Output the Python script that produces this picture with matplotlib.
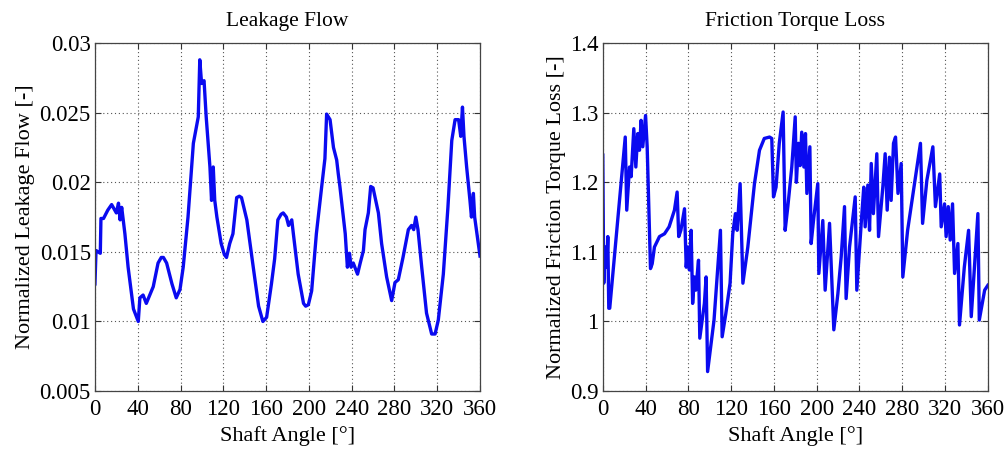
import numpy as np
import matplotlib
matplotlib.use("Agg")
import matplotlib.pyplot as plt

# ---- data ----
# leakage flow: (shaft angle [deg], normalized leakage flow [-])
leak_angle = [0, 1, 5, 5.6, 8, 12, 15.6, 20, 22, 23.5, 25, 28, 31, 36, 40.5, 42, 45, 48,
              54.5, 59, 62, 64, 67, 72, 76, 79.5, 82.5, 87, 92, 96.6, 98, 99.7, 102, 104,
              107.5, 109, 110.6, 112, 114, 118, 121, 123, 126, 129, 132.5, 135, 137, 142, 148,
              153, 157, 160.5, 165, 168, 171, 174, 176, 179, 181, 184, 185.5, 190, 195,
              197, 199.5, 202.6, 207, 212, 215, 216.6, 219.8, 223, 226, 227.5, 229, 234,
              236, 238, 239.5, 241.5, 245.5, 248, 251, 252.5, 255.6, 257.8, 260, 265,
              268, 272.7, 277.4, 280.5, 283.6, 288, 293, 296, 298, 300, 302, 305.5,
              310, 314.8, 318, 321, 325.7, 330, 333.6, 336.7, 340, 342, 343.6, 345,
              347.5, 350.6, 352, 353.8, 355, 360]
leak_flow = [0.0127, 0.0151, 0.0149, 0.0174, 0.0174, 0.0180, 0.0184, 0.0178, 0.0185, 0.0173,
             0.0182, 0.0163, 0.0139, 0.0109, 0.0100, 0.0117, 0.0119, 0.0113, 0.0125,
             0.0142, 0.0146, 0.0146, 0.0142, 0.0127, 0.0117, 0.0123, 0.0139, 0.0175, 0.0228,
             0.0247, 0.0288, 0.0271, 0.0273, 0.0247, 0.0211, 0.0187, 0.0211, 0.0187,
             0.0175, 0.0156, 0.0148, 0.0146, 0.0156, 0.0163, 0.0189, 0.0190, 0.0189, 0.0173, 0.0139,
             0.0111, 0.0100, 0.0103, 0.0127, 0.0145, 0.0173, 0.0177, 0.0178, 0.0175, 0.0169,
             0.0173, 0.0163, 0.0134, 0.0113, 0.0111, 0.0112, 0.0122, 0.0163, 0.0197, 0.0217,
             0.0249, 0.0245, 0.0225, 0.0216, 0.0206, 0.0197, 0.0163, 0.0139, 0.0149,
             0.0139, 0.0142, 0.0134, 0.0142, 0.0151, 0.0166, 0.0178, 0.0197, 0.0196,
             0.0178, 0.0156, 0.0132, 0.0115, 0.0128, 0.0130, 0.0146, 0.0166, 0.0169,
             0.0166, 0.0175, 0.0166, 0.0139, 0.0106, 0.0091, 0.0091, 0.0101, 0.0134,
             0.0182, 0.0230, 0.0245, 0.0245, 0.0233, 0.0254, 0.0233, 0.0211, 0.0187,
             0.0175, 0.0192, 0.0175, 0.0147]

# friction torque loss: (shaft angle [deg], normalized friction torque loss [-])
torque_angle = [0, 0.9, 2.5, 3.7, 4.7, 5.6, 6.5, 21, 22.4, 25, 26.5, 29, 30.9, 32.7,
                34.3, 35.8, 37.4, 40, 41.5, 44.6, 46.2, 48.3, 53, 57.7, 62, 67, 69.5,
                71, 73, 76.4, 78, 79.5, 81, 82.6, 84, 85.7, 87, 89.5, 90.7, 95, 96.6,
                98, 104, 110, 111.6, 115, 119, 121.5, 124, 125.6, 128.4, 131, 135.6,
                141.8, 146.5, 151, 155.9, 158, 159.6, 162, 165, 168.6, 170.5, 173,
                176.7, 179.9, 181, 183, 184.5, 186, 188, 189.5, 190.8, 193.6, 194.8,
                197, 201, 202, 205.7, 207.9, 212, 216, 219.8, 222.9, 226, 227.5, 230.7,
                236, 237.5, 242, 244, 245.3, 247.8, 249.4, 251, 253, 256.2, 257.8,
                261.8, 264, 265.9, 268, 269.6, 271.8, 273.7, 276, 279, 280.5, 285, 291,
                297, 299, 303, 308.6, 311, 315, 316.4, 319.5, 321, 323, 324.8, 327,
                328.9, 332, 333.5, 338, 342, 344.5, 350.7, 352, 357, 360]
torque_loss = [1.239, 1.055, 1.107, 1.078, 1.122, 1.019, 1.019, 1.265, 1.160, 1.222,
               1.208, 1.277, 1.222, 1.270, 1.246, 1.289, 1.251, 1.296, 1.251, 1.076,
               1.083, 1.107, 1.122, 1.126, 1.136, 1.160, 1.186, 1.122, 1.131, 1.162,
               1.078, 1.107, 1.074, 1.131, 1.026, 1.064, 1.045, 1.088, 0.976, 1.026,
               1.064, 0.928, 1.002, 1.131, 0.978, 1.011, 1.055, 1.126, 1.155, 1.131,
               1.198, 1.055, 1.107, 1.198, 1.246, 1.263, 1.265, 1.263, 1.179, 1.193,
               1.256, 1.301, 1.131, 1.165, 1.222, 1.294, 1.200, 1.256, 1.224, 1.272,
               1.222, 1.270, 1.184, 1.251, 1.112, 1.145, 1.198, 1.069, 1.145, 1.045,
               1.141, 0.988, 1.040, 1.093, 1.165, 1.033, 1.107, 1.179, 1.045, 1.150,
               1.193, 1.136, 1.196, 1.131, 1.227, 1.155, 1.241, 1.122, 1.193, 1.241,
               1.160, 1.236, 1.174, 1.256, 1.265, 1.184, 1.227, 1.064, 1.131, 1.193,
               1.256, 1.141, 1.203, 1.251, 1.165, 1.212, 1.136, 1.169, 1.122, 1.165,
               1.117, 1.169, 1.069, 1.112, 0.995, 1.078, 1.131, 1.007, 1.155, 1.002,
               1.045, 1.052]

angle_ticks = list(range(0, 361, 40))
leak_ticks = [0.005, 0.01, 0.015, 0.02, 0.025, 0.03]
leak_ticklabels = ["0.005", "0.01", "0.015", "0.02", "0.025", "0.03"]
torque_ticks = [0.9, 1.0, 1.1, 1.2, 1.3, 1.4]
torque_ticklabels = ["0.9", "1", "1.1", "1.2", "1.3", "1.4"]

plt.rcParams['font.family'] = ['Liberation Serif', 'DejaVu Serif']

fig = plt.figure(figsize=(10.08, 4.49), dpi=100)
ax1 = fig.add_axes([0.0942, 0.129, 0.382, 0.775])
ax2 = fig.add_axes([0.598, 0.129, 0.382, 0.775])


def style_axes(ax, yticks, yticklabels, ylim, title, ylabel):
    ax.set_xlim(0, 360)
    ax.set_ylim(*ylim)
    ax.set_xticks(angle_ticks)
    ax.set_yticks(yticks)
    ax.set_yticklabels(yticklabels)
    ax.tick_params(direction='in', top=True, right=True, labelsize=16.5,
                   length=4, width=0.8, color='#333333')
    ax.tick_params(axis='x', pad=6)
    ax.tick_params(axis='y', pad=3)
    ax.grid(True, linestyle=(0, (1, 2.5)), color='#555555', linewidth=0.8)
    for sp in ax.spines.values():
        sp.set_color('#444444')
        sp.set_linewidth(0.9)
    ax.set_title(title, fontsize=15.5, pad=12)
    ax.set_xlabel("Shaft Angle [°]", fontsize=16, labelpad=4)
    ax.set_ylabel(ylabel, fontsize=16, labelpad=3)


ax1.plot(leak_angle, leak_flow, color='#0a0af0', linewidth=2.4)
style_axes(ax1, leak_ticks, leak_ticklabels, (0.005, 0.03),
           "Leakage Flow", "Normalized Leakage Flow [-]")

ax2.plot(torque_angle, torque_loss, color='#0a0af0', linewidth=2.4)
style_axes(ax2, torque_ticks, torque_ticklabels, (0.9, 1.4),
           "Friction Torque Loss", "Normalized Friction Torque Loss [-]")

fig.savefig("out.png", dpi=100)
